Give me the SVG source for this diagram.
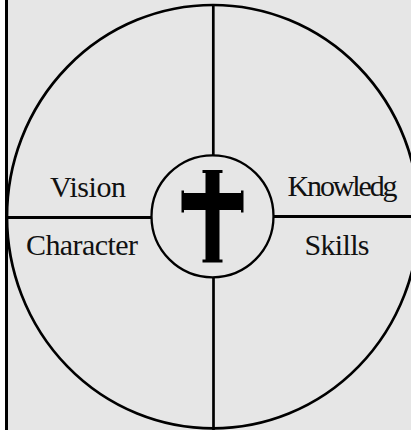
<svg xmlns="http://www.w3.org/2000/svg" width="411" height="430" viewBox="0 0 411 430">
<style>
.ln{stroke:#000;fill:none}
.lbl{font-family:"Liberation Serif","Times New Roman",serif;font-size:30px;fill:#111}
</style>
<rect x="0" y="0" width="411" height="430" fill="#fff"/>
<rect x="8" y="0" width="403" height="430" fill="#e6e6e6"/>
<g id="outer">
<ellipse class="ln" cx="213" cy="216.7" rx="206" ry="211.7" stroke-width="2.7"/>
</g>
<g id="connectors">
<line class="ln" x1="213.3" y1="5" x2="213.3" y2="155.5" stroke-width="2.7"/>
<line class="ln" x1="213.5" y1="277.5" x2="213.5" y2="430" stroke-width="2.7"/>
<line class="ln" x1="7" y1="217.5" x2="151.5" y2="217.5" stroke-width="3"/>
<line class="ln" x1="273.5" y1="216.5" x2="411" y2="216.5" stroke-width="3"/>
</g>
<line class="ln" x1="6.5" y1="0" x2="6.5" y2="430" stroke-width="3"/>
<g id="center">
<circle cx="212.5" cy="216.3" r="61" fill="#e6e6e6" stroke="#000" stroke-width="2.3"/>
<path d="M202.5,170 H222.5 V173 H219.5 V193 H241 V190.5 H243.5 V212.5 H241 V210 H219.5 V259.5 H222.5 V262.5 H202.5 V259.5 H205.5 V210 H184 V212.5 H181.5 V190.5 H184 V193 H205.5 V173 H202.5 Z" fill="#000"/>
</g>
<g id="vision"><text class="lbl" x="50" y="196.5" textLength="76">Vision</text></g>
<g id="character"><text class="lbl" x="26" y="255" textLength="112">Character</text></g>
<g id="knowledg"><text class="lbl" x="287.5" y="195.5" textLength="110">Knowledg</text></g>
<g id="skills"><text class="lbl" x="304.5" y="254.5" textLength="65">Skills</text></g>
</svg>
